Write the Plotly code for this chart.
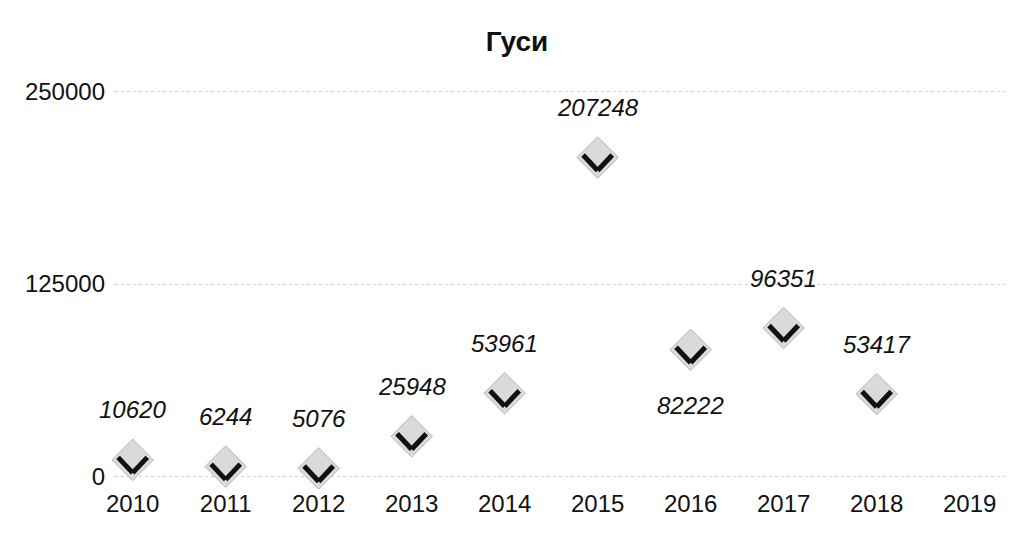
import plotly.graph_objects as go

years = [2010, 2011, 2012, 2013, 2014, 2015, 2016, 2017, 2018]
values = [10620, 6244, 5076, 25948, 53961, 207248, 82222, 96351, 53417]
label_below = [False, False, False, False, False, False, True, False, False]
x_ticks = [2010, 2011, 2012, 2013, 2014, 2015, 2016, 2017, 2018, 2019]
y_ticks = [0, 125000, 250000]
title_text = "Гуси"

FONT = "Liberation Sans, Arial, sans-serif"

fig = go.Figure()
fig.add_trace(go.Scatter(
    x=years, y=values, mode="markers",
    marker=dict(symbol="diamond", size=32, color="#dadada",
                line=dict(color="#b8b8b8", width=1)),
    cliponaxis=False, hoverinfo="x+y", showlegend=False,
))

annotations = []
for x, y, below in zip(years, values, label_below):
    # check mark (V) drawn as two arrow lines
    for dx in (-16, 16):
        annotations.append(dict(
            x=x, y=y, xref="x", yref="y", text="", showarrow=True,
            arrowhead=0, arrowwidth=5, arrowcolor="#111111",
            ax=dx, ay=-17, axref="pixel", ayref="pixel",
            yshift=-13, standoff=0, startstandoff=0,
        ))
    annotations.append(dict(
        x=x, y=y, xref="x", yref="y", text=f"<i>{y}</i>",
        showarrow=False, font=dict(family=FONT, size=24, color="#111111"),
        yshift=-56 if below else 50,
    ))

fig.update_layout(
    width=1018, height=536,
    paper_bgcolor="white", plot_bgcolor="white",
    margin=dict(l=107, r=21, t=81, b=65),
    title=dict(text=f"<b>{title_text}</b>", x=0.5, xanchor="center",
               y=1 - 33 / 536, yanchor="middle",
               font=dict(family=FONT, size=28, color="#111111")),
    font=dict(family=FONT, size=24, color="#111111"),
    annotations=annotations,
    showlegend=False,
)
fig.update_xaxes(
    range=[2009.81, 2019.38], tickvals=x_ticks, ticktext=[str(t) for t in x_ticks],
    showgrid=False, zeroline=False, showline=False, ticks="",
    ticklabelstandoff=8,
    tickfont=dict(family=FONT, size=24, color="#111111"),
)
fig.update_yaxes(
    range=[-1800, 251800], tickvals=y_ticks, ticktext=[str(t) for t in y_ticks],
    showgrid=True, gridcolor="#cfcfcf", griddash="dot", gridwidth=1,
    zeroline=False, showline=False, ticks="",
    ticklabelstandoff=9,
    tickfont=dict(family=FONT, size=24, color="#111111"),
)

fig.write_html("out.html")
